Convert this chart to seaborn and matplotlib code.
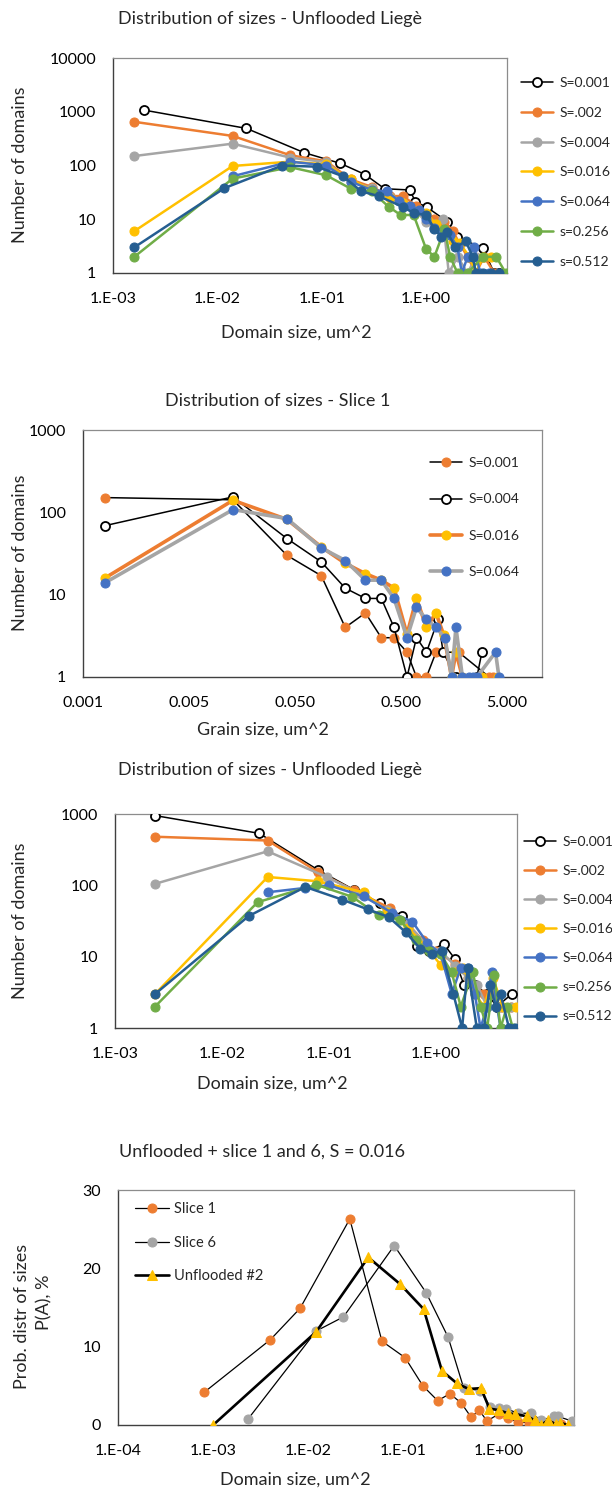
import matplotlib
matplotlib.use("Agg")
import matplotlib.pyplot as plt
import seaborn as sns
from matplotlib.ticker import FixedLocator, FixedFormatter, NullLocator

sns.set_style("white")
plt.rcParams['font.family'] = ['Lato', 'DejaVu Sans']

# ---- panel 1: Distribution of sizes - Unflooded Liege ----
p1_labels = ["S=0.001", "S=.002", "S=0.004", "S=0.016", "S=0.064", "s=0.256", "s=0.512"]
p1_x = [
    [0.0020, 0.019, 0.068, 0.15, 0.26, 0.40, 0.70, 0.79, 1.01, 1.6, 1.96, 3.5, 4.5, 5.0],
    [0.0016, 0.014, 0.050, 0.11, 0.19, 0.30, 0.45, 0.60, 0.80, 1.0, 1.2, 1.5, 1.8, 2.1, 2.5, 3.0, 3.6, 4.5],
    [0.0016, 0.014, 0.050, 0.11, 0.19, 0.30, 0.45, 0.60, 0.80, 1.0, 1.2, 1.45, 1.65, 2.0, 2.5, 3.0],
    [0.0016, 0.014, 0.050, 0.11, 0.19, 0.30, 0.45, 0.60, 0.80, 1.0, 1.25, 1.5, 1.8, 2.1, 2.6, 3.0, 3.5, 4.2],
    [0.014, 0.050, 0.11, 0.19, 0.30, 0.42, 0.55, 0.70, 0.85, 1.0, 1.2, 1.45, 1.7, 2.0, 2.2, 2.5, 2.9, 3.3, 4.0],
    [0.0016, 0.014, 0.050, 0.11, 0.19, 0.30, 0.44, 0.57, 0.76, 1.0, 1.2, 1.5, 1.7, 2.0, 2.5, 3.5, 4.7, 5.8],
    [0.0016, 0.0117, 0.042, 0.09, 0.16, 0.24, 0.35, 0.60, 0.76, 1.0, 1.2, 1.4, 1.6, 1.9, 2.4, 2.8, 3.0, 3.5, 4.2, 5.0],
]
p1_y = [
    [1070, 490, 173, 110, 68, 37, 35, 21, 17, 9, 4.7, 2.9, 1, 1],
    [650, 355, 155, 120, 55, 40, 27, 27, 18, 12, 10, 9, 6, 3.5, 2, 1, 2, 1],
    [150, 255, 140, 115, 50, 38, 26, 20, 14, 9, 8, 10, 1, 2, 1, 2],
    [6, 98, 118, 105, 55, 35, 25, 20, 14, 13, 8, 6, 4, 3.6, 2, 1, 2, 2],
    [63, 118, 100, 50, 35, 33, 22, 18, 15, 10, 7, 6, 5, 3, 1, 2, 3, 1, 1],
    [2, 57, 93, 66, 37, 33, 17, 12, 12, 2.8, 2, 6.5, 2, 1, 1, 2, 2, 1],
    [3, 38, 100, 95, 63, 33, 27, 17, 13, 12, 6.7, 4.7, 5.8, 3, 3.9, 2, 1, 1, 1, 1],
]

# ---- panel 2: Distribution of sizes - Slice 1 ----
p2_labels = ["S=0.001", "S=0.004", "S=0.016", "S=0.064"]
p2_x = [
    [0.00081, 0.013, 0.042, 0.0885, 0.149, 0.231, 0.326, 0.43, 0.57, 0.70, 0.87, 1.07, 1.75, 3.4, 3.7],
    [0.00081, 0.013, 0.042, 0.0885, 0.149, 0.231, 0.326, 0.43, 0.57, 0.70, 0.87, 1.12, 1.25, 1.65, 2.6, 2.9],
    [0.00081, 0.013, 0.042, 0.0885, 0.149, 0.231, 0.326, 0.43, 0.57, 0.70, 0.87, 1.07, 1.27, 1.5, 1.65, 1.9, 2.9, 4.1],
    [0.00081, 0.013, 0.042, 0.0885, 0.149, 0.231, 0.326, 0.43, 0.57, 0.70, 0.87, 1.07, 1.3, 1.5, 1.65, 1.9, 2.2, 2.4, 2.6, 3.9, 4.2],
]
p2_y = [
    [151, 142, 30, 17, 4, 6, 3, 3, 2, 1, 1, 2, 2, 1, 1],
    [69, 154, 48, 25, 12, 9, 9, 4, 1, 3, 2, 5, 2, 1, 1, 2],
    [16, 140, 82, 38, 24, 18, 15, 12, 3.3, 9, 4, 6, 3.2, 1, 2, 1, 1, 1],
    [14, 108, 84, 37, 26, 15, 15, 9, 3, 7, 5, 4, 3, 1, 4, 1, 1, 1, 1, 2, 1],
]

# ---- panel 3: Distribution of sizes - Unflooded Liege (second set) ----
p3_labels = p1_labels
p3_x = [
    [0.00237, 0.0223, 0.078, 0.17, 0.30, 0.48, 0.66, 0.85, 1.18, 1.5, 1.82, 2.3, 3.0, 3.7, 5.1],
    [0.00237, 0.0267, 0.078, 0.17, 0.37, 0.55, 0.75, 1.0, 1.5, 2.0, 2.8, 3.3, 4.0, 5.0],
    [0.00237, 0.0267, 0.096, 0.2, 0.35, 0.55, 0.8, 1.1, 1.5, 2.0, 2.4, 3.0, 4.0, 5.0],
    [0.00237, 0.0267, 0.078, 0.21, 0.35, 0.55, 0.8, 1.1, 1.5, 1.8, 2.3, 2.8, 3.4, 4.2, 5.6],
    [0.0267, 0.06, 0.1, 0.21, 0.39, 0.6, 0.83, 1.1, 1.4, 1.7, 2.0, 2.3, 2.6, 3.0, 3.3, 4.0, 4.8],
    [0.00237, 0.0215, 0.076, 0.165, 0.29, 0.46, 0.65, 0.85, 1.1, 1.4, 1.7, 2.2, 2.6, 3.0, 3.5, 4.0, 4.6, 5.2],
    [0.00237, 0.0177, 0.06, 0.133, 0.23, 0.36, 0.52, 0.71, 0.92, 1.13, 1.45, 1.75, 1.97, 2.4, 2.8, 3.2, 3.6, 4.0, 4.8, 5.5],
]
p3_y = [
    [950, 535, 166, 87, 56, 37, 14, 12, 15, 9.3, 4, 4, 3, 2, 3],
    [480, 425, 155, 85, 48, 28, 17, 12, 8, 5, 3, 3, 2, 2],
    [105, 300, 130, 75, 45, 28, 15, 12, 7.5, 5, 4, 2, 2, 2],
    [3, 131, 114, 80, 42, 25, 14, 7.7, 6, 7, 3, 2, 5, 2, 2],
    [80, 92, 100, 70, 41, 31, 15.5, 11, 3, 7, 7, 3, 1, 2, 6, 1, 1],
    [2, 58, 102, 69, 38, 33, 17, 12, 11, 6, 2, 6, 2, 1, 5.6, 1, 2, 1],
    [3, 37, 95, 63, 46, 36, 22, 13, 11, 12, 3, 1, 7, 1, 1, 4, 2, 3, 1, 1],
]

# ---- panel 4: Unflooded + slice 1 and 6, S = 0.016 ----
slice1_x = [0.00081, 0.0040, 0.0082, 0.0273, 0.0594, 0.104, 0.16, 0.229, 0.308, 0.405, 0.514, 0.625, 0.755,
            1.0, 1.25, 1.6, 2.1, 2.8, 3.5, 4.5]
slice1_y = [4.2, 10.9, 14.9, 26.3, 10.7, 8.6, 5.0, 3.1, 4.0, 2.8, 1.0, 1.9, 0.5, 1.4, 0.9, 0.4, 0.3, 0.2, 0.1, 0.1]
slice6_x = [0.00234, 0.0121, 0.0234, 0.080, 0.173, 0.295, 0.43, 0.64, 0.82, 1.0, 1.19, 1.6, 2.2, 2.8, 3.8, 4.2, 5.9]
slice6_y = [0.8, 12.0, 13.8, 22.9, 16.9, 11.2, 4.7, 4.4, 2.3, 2.2, 2.1, 1.5, 1.5, 0.6, 1.1, 1.1, 0.5]
unfl_x = [0.001, 0.0121, 0.0427, 0.092, 0.163, 0.254, 0.366, 0.484, 0.653, 0.80, 1.0, 1.25, 1.5, 2.0, 2.4, 2.8,
          3.3, 4.0, 4.4, 5.3]
unfl_y = [0, 11.9, 21.4, 18.0, 14.8, 6.9, 5.3, 4.6, 4.7, 2.1, 1.9, 1.5, 1.4, 1.1, 0.6, 0, 0.6, 0.1, 0.3, 0]

dec_ticks = [1e-3, 1e-2, 1e-1, 1e0]
dec_labels = ["1.E-03", "1.E-02", "1.E-01", "1.E+00"]
cnt_ticks = [1, 10, 100, 1000, 10000]
cnt_labels = ["1", "10", "100", "1000", "10000"]
grain_ticks = [0.0005, 0.005, 0.05, 0.5, 5]
grain_labels = ["0.001", "0.005", "0.050", "0.500", "5.000"]

colors = ["black", "#ED7D31", "#A5A5A5", "#FFC000", "#4472C4", "#70AD47", "#255E91"]

W, H = 612, 1497
fig = plt.figure(figsize=(W / 100, H / 100), dpi=100)


def box(l, t, r, b):
    return [l / W, 1 - b / H, (r - l) / W, (b - t) / H]


def style(ax):
    for s in ["left", "bottom"]:
        ax.spines[s].set_color("#404040")
        ax.spines[s].set_linewidth(1.0)
    for s in ["top", "right"]:
        ax.spines[s].set_color("#8c8c8c")
        ax.spines[s].set_linewidth(0.9)
    ax.tick_params(direction="in", length=5, width=0.9, color="#404040", labelsize=11.5,
                   labelcolor="black")
    ax.tick_params(axis="x", pad=14)
    ax.tick_params(axis="y", pad=12)


def set_ticks(ax, xt, xl, yt, yl):
    ax.xaxis.set_major_locator(FixedLocator(xt))
    ax.xaxis.set_major_formatter(FixedFormatter(xl))
    ax.yaxis.set_major_locator(FixedLocator(yt))
    ax.yaxis.set_major_formatter(FixedFormatter(yl))
    ax.xaxis.set_minor_locator(NullLocator())
    ax.yaxis.set_minor_locator(NullLocator())


def draw_sizes(ax, xs, ys, labels):
    for i, (x, y, lab) in enumerate(zip(xs, ys, labels)):
        if i == 0:
            sns.lineplot(x=x, y=y, ax=ax, sort=False, estimator=None, color="black", linewidth=1.1,
                         marker="o", markersize=6.5, markerfacecolor="white", markeredgecolor="black",
                         markeredgewidth=1.3, label=lab, zorder=3)
        else:
            sns.lineplot(x=x, y=y, ax=ax, sort=False, estimator=None, color=colors[i], linewidth=1.8,
                         marker="o", markersize=6.5, markerfacecolor=colors[i], markeredgecolor=colors[i],
                         label=lab, zorder=3 + i)


# panel 1
ax1 = fig.add_axes(box(113, 58, 507, 273))
draw_sizes(ax1, p1_x, p1_y, p1_labels)
ax1.set_xscale("log")
ax1.set_yscale("log")
ax1.set_xlim(1e-3, 5.96)
ax1.set_ylim(1, 10000)
style(ax1)
set_ticks(ax1, dec_ticks, dec_labels, cnt_ticks, cnt_labels)
ax1.set_xlabel("")
ax1.set_ylabel("")
ax1.legend(loc="upper left", bbox_to_anchor=(521 / W, 1 - 77 / H), bbox_transform=fig.transFigure,
           frameon=False, fontsize=10, handlelength=2.3, handletextpad=0.5, labelspacing=1.28,
           borderpad=0, borderaxespad=0)

# panel 2
ax2 = fig.add_axes(box(83, 430, 542, 677))
p2_styles = [
    dict(color="black", linewidth=1.1, markerfacecolor="#ED7D31", markeredgecolor="#ED7D31"),
    dict(color="black", linewidth=1.1, markerfacecolor="white", markeredgecolor="black", markeredgewidth=1.3),
    dict(color="#ED7D31", linewidth=2.6, markerfacecolor="#FFC000", markeredgecolor="#FFC000"),
    dict(color="#A5A5A5", linewidth=2.6, markerfacecolor="#4472C4", markeredgecolor="#4472C4"),
]
for i, (x, y, lab) in enumerate(zip(p2_x, p2_y, p2_labels)):
    sns.lineplot(x=x, y=y, ax=ax2, sort=False, estimator=None, marker="o", markersize=6.5,
                 label=lab, zorder=3 + i, **p2_styles[i])
ax2.set_xscale("log")
ax2.set_yscale("log")
ax2.set_xlim(0.0005, 10.7)
ax2.set_ylim(1, 1000)
style(ax2)
set_ticks(ax2, grain_ticks, grain_labels, cnt_ticks[:4], cnt_labels[:4])
ax2.set_xlabel("")
ax2.set_ylabel("")
ax2.legend(loc="upper left", bbox_to_anchor=(430 / W, 1 - 457 / H), bbox_transform=fig.transFigure,
           frameon=False, fontsize=10, handlelength=2.3, handletextpad=0.45, labelspacing=1.76,
           borderpad=0, borderaxespad=0)

# panel 3
ax3 = fig.add_axes(box(115, 814, 517, 1028))
draw_sizes(ax3, p3_x, p3_y, p3_labels)
ax3.set_xscale("log")
ax3.set_yscale("log")
ax3.set_xlim(1e-3, 5.7)
ax3.set_ylim(1, 1000)
style(ax3)
set_ticks(ax3, dec_ticks, dec_labels, cnt_ticks[:4], cnt_labels[:4])
ax3.set_xlabel("")
ax3.set_ylabel("")
ax3.legend(loc="upper left", bbox_to_anchor=(524 / W, 1 - 836 / H), bbox_transform=fig.transFigure,
           frameon=False, fontsize=10, handlelength=2.3, handletextpad=0.45, labelspacing=1.23,
           borderpad=0, borderaxespad=0)

# panel 4
ax4 = fig.add_axes(box(118, 1190, 574, 1425))
sns.lineplot(x=slice1_x, y=slice1_y, ax=ax4, sort=False, estimator=None, color="black", linewidth=0.9,
             marker="o", markersize=6.5, markerfacecolor="#ED7D31", markeredgecolor="#ED7D31",
             label="Slice 1", zorder=3)
sns.lineplot(x=slice6_x, y=slice6_y, ax=ax4, sort=False, estimator=None, color="black", linewidth=0.9,
             marker="o", markersize=6.5, markerfacecolor="#A5A5A5", markeredgecolor="#A5A5A5",
             label="Slice 6", zorder=4)
sns.lineplot(x=unfl_x, y=unfl_y, ax=ax4, sort=False, estimator=None, color="black", linewidth=1.9,
             marker="^", markersize=7.5, markerfacecolor="#FFC000", markeredgecolor="#FFC000",
             label="Unflooded #2", zorder=5)
ax4.set_xscale("log")
ax4.set_xlim(1e-4, 6.2)
ax4.set_ylim(0, 30)
style(ax4)
set_ticks(ax4, [1e-4] + dec_ticks, ["1.E-04"] + dec_labels, [0, 10, 20, 30], ["0", "10", "20", "30"])
ax4.set_xlabel("")
ax4.set_ylabel("")
ax4.legend(loc="upper left", bbox_to_anchor=(135 / W, 1 - 1202 / H), bbox_transform=fig.transFigure,
           frameon=False, fontsize=10.5, handlelength=2.3, handletextpad=0.35, labelspacing=1.35,
           borderpad=0, borderaxespad=0)

# titles and axis titles
tkw = dict(ha="center", va="center", fontsize=13)
fig.text(270 / W, 1 - 19 / H, "Distribution of sizes - Unflooded Liegè", **tkw)
fig.text(278 / W, 1 - 401 / H, "Distribution of sizes - Slice 1", **tkw)
fig.text(270 / W, 1 - 770 / H, "Distribution of sizes - Unflooded Liegè", **tkw)
fig.text(262 / W, 1 - 1152 / H, "Unflooded + slice 1 and 6, S = 0.016", **tkw)

lkw = dict(ha="center", va="center", fontsize=13)
fig.text(296 / W, 1 - 333 / H, "Domain size, um^2", **lkw)
fig.text(263 / W, 1 - 730 / H, "Grain size, um^2", **lkw)
fig.text(272 / W, 1 - 1084 / H, "Domain size, um^2", **lkw)
fig.text(295 / W, 1 - 1480 / H, "Domain size, um^2", **lkw)
fig.text(20 / W, 1 - 165 / H, "Number of domains", rotation=90, **lkw)
fig.text(20 / W, 1 - 553 / H, "Number of domains", rotation=90, **lkw)
fig.text(20 / W, 1 - 921 / H, "Number of domains", rotation=90, **lkw)
fig.text(22 / W, 1 - 1316 / H, "Prob. distr of sizes", rotation=90, **lkw)
fig.text(44 / W, 1 - 1302 / H, "P(A), %", rotation=90, **lkw)

fig.savefig("out.png", dpi=100)
